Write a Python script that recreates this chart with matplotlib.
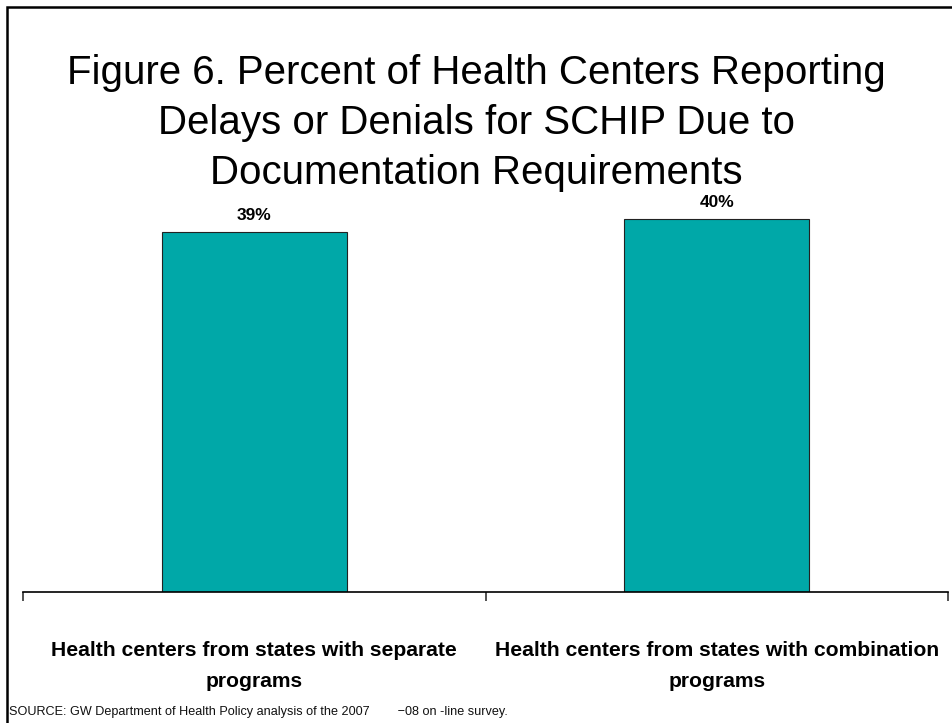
import matplotlib
matplotlib.use("Agg")
import matplotlib.pyplot as plt
from matplotlib.patches import Rectangle

title = "Figure 6. Percent of Health Centers Reporting\nDelays or Denials for SCHIP Due to\nDocumentation Requirements"
categories = ["Health centers from states with separate\nprograms",
              "Health centers from states with combination\nprograms"]
values = [39.0, 40.4]
source = "SOURCE: GW Department of Health Policy analysis of the 2007        \u221208 on -line survey."

plt.rcParams['font.family'] = ['Liberation Sans', 'DejaVu Sans']

fig = plt.figure(figsize=(9.52, 7.23), dpi=100)
fig.patch.set_facecolor('white')

# frame border (left & top visible, right/bottom cut off)
fig.patches.append(Rectangle((7/952, -0.05), 1.2, 1 - 7/723 + 0.05,
                             transform=fig.transFigure, fill=False,
                             edgecolor='black', linewidth=1.8))

ax = fig.add_axes([23/952, 1 - 592/723, 925/952, 415/723])
x = list(range(len(categories)))
ax.bar(x, values, width=0.4, color='#00A8A8', edgecolor='#222222', linewidth=0.8, zorder=2)
for xi, v in zip(x, values):
    ax.text(xi, v + 1.0, f"{round(v)}%", ha='center', va='bottom',
            fontsize=12.5, fontweight='bold')

ax.set_xlim(-0.5, len(categories) - 0.5)
ax.set_ylim(0, 45)
for s in ['top', 'right', 'left']:
    ax.spines[s].set_visible(False)
ax.spines['bottom'].set_linewidth(1.2)
ax.set_yticks([])
ax.set_xticks([i - 0.5 for i in range(len(categories) + 1)])
ax.set_xticklabels([])
ax.tick_params(axis='x', which='major', direction='out', length=6.5, width=1.2, color='#333333')
ax.set_xticks(x, categories, minor=True)
ax.tick_params(axis='x', which='minor', length=0, pad=35, labelsize=15.2)
for lab in ax.get_xticklabels(minor=True):
    lab.set_fontweight('bold')
    lab.set_linespacing(1.8)
ax.patch.set_alpha(0)

fig.text(0.5, 1 - 54/723, title, ha='center', va='top', fontsize=29, linespacing=1.4)
fig.text(9/952, 1 - 712/723, source, ha='left', va='center', fontsize=9.1, color='#111111')

fig.savefig('out.png', dpi=100, facecolor='white')
